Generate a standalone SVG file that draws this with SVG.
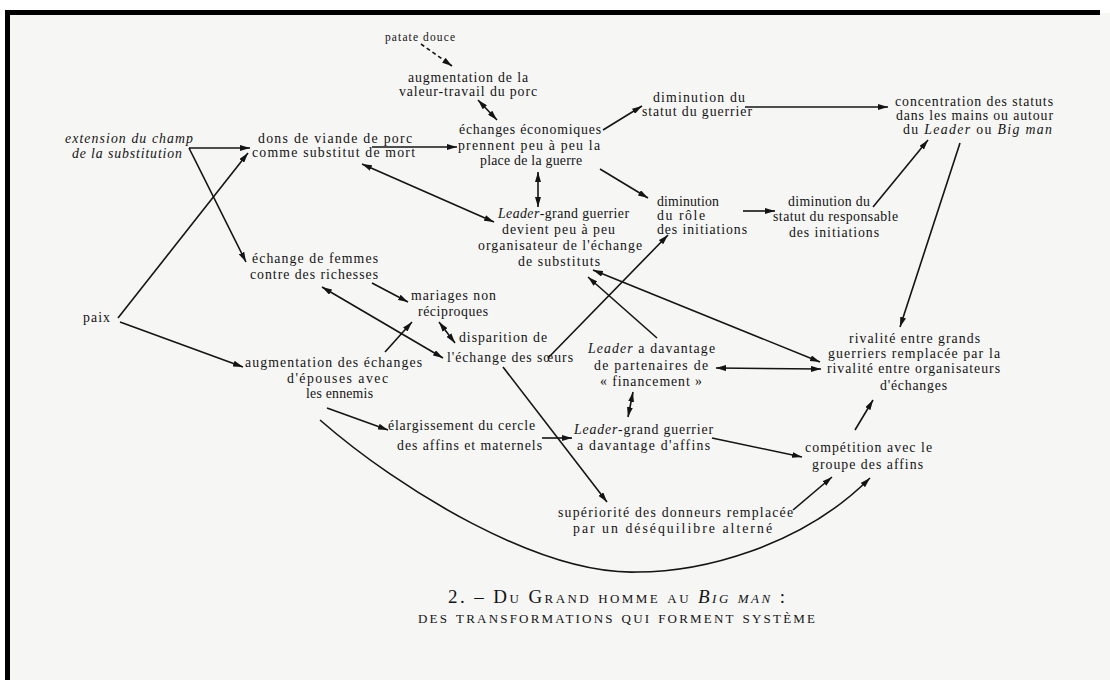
<svg xmlns="http://www.w3.org/2000/svg" width="1110" height="680" viewBox="0 0 1110 680">
<defs>
<style>
.t{font-family:"Liberation Serif","Times New Roman",serif;font-size:13.8px;fill:#141414}
.s{font-size:11.5px}
.i{font-style:italic}
.c{stroke:#141414;stroke-width:1.6;fill:none}
.d{stroke-dasharray:4 3}
.ti{font-family:"Liberation Serif","Times New Roman",serif;font-size:19px;fill:#141414;font-variant:small-caps}
</style>
<marker id="ah" viewBox="0 0 10 6" refX="10" refY="3" markerWidth="10" markerHeight="6" markerUnits="userSpaceOnUse" orient="auto-start-reverse">
<path d="M0,0 L10,3 L0,6 z" fill="#141414"/>
</marker>
</defs>
<rect x="0" y="0" width="1110" height="680" fill="#ffffff"/>
<rect x="8" y="13" width="1102" height="667" fill="#f6f6f5"/>
<rect x="5" y="10" width="1095" height="5" fill="#000"/>
<rect x="5" y="10" width="5" height="670" fill="#000"/>

<g id="connectors">
<line class="c d" x1="421" y1="44" x2="452" y2="66" marker-end="url(#ah)"/>
<line class="c" x1="478" y1="100" x2="497" y2="120" marker-start="url(#ah)" marker-end="url(#ah)"/>
<line class="c" x1="189" y1="148" x2="250" y2="148" marker-end="url(#ah)"/>
<line class="c" x1="189" y1="148" x2="246" y2="262" marker-end="url(#ah)"/>
<line class="c" x1="118" y1="318" x2="248" y2="153" marker-end="url(#ah)"/>
<line class="c" x1="120" y1="322" x2="243" y2="367" marker-end="url(#ah)"/>
<line class="c" x1="372" y1="147" x2="457" y2="147" marker-end="url(#ah)"/>
<line class="c" x1="362" y1="164" x2="494" y2="222" marker-start="url(#ah)" marker-end="url(#ah)"/>
<line class="c" x1="603" y1="130" x2="642" y2="106" marker-end="url(#ah)"/>
<line class="c" x1="745" y1="107" x2="888" y2="107" marker-end="url(#ah)"/>
<line class="c" x1="538" y1="172" x2="538" y2="207" marker-start="url(#ah)" marker-end="url(#ah)"/>
<line class="c" x1="600" y1="169" x2="648" y2="198" marker-end="url(#ah)"/>
<line class="c" x1="743" y1="211" x2="775" y2="211" marker-end="url(#ah)"/>
<line class="c" x1="873" y1="207" x2="928" y2="140" marker-end="url(#ah)"/>
<line class="c" x1="960" y1="143" x2="900" y2="327" marker-end="url(#ah)"/>
<line class="c" x1="372" y1="283" x2="408" y2="302" marker-end="url(#ah)"/>
<line class="c" x1="322" y1="287" x2="443" y2="358" marker-start="url(#ah)" marker-end="url(#ah)"/>
<line class="c" x1="385" y1="352" x2="412" y2="322" marker-end="url(#ah)"/>
<line class="c" x1="439" y1="322" x2="455" y2="343" marker-start="url(#ah)" marker-end="url(#ah)"/>
<line class="c" x1="548" y1="358" x2="668" y2="235" marker-end="url(#ah)"/>
<line class="c" x1="503" y1="367" x2="607" y2="502" marker-end="url(#ah)"/>
<line class="c" x1="657" y1="338" x2="588" y2="277" marker-end="url(#ah)"/>
<line class="c" x1="593" y1="270" x2="820" y2="362" marker-start="url(#ah)" marker-end="url(#ah)"/>
<line class="c" x1="716" y1="368" x2="821" y2="369" marker-start="url(#ah)" marker-end="url(#ah)"/>
<line class="c" x1="633" y1="392" x2="628" y2="417" marker-start="url(#ah)" marker-end="url(#ah)"/>
<line class="c" x1="327" y1="408" x2="388" y2="430" marker-end="url(#ah)"/>
<line class="c" x1="542" y1="438" x2="572" y2="438" marker-end="url(#ah)"/>
<line class="c" x1="712" y1="438" x2="802" y2="457" marker-end="url(#ah)"/>
<line class="c" x1="855" y1="430" x2="873" y2="400" marker-end="url(#ah)"/>
<line class="c" x1="793" y1="510" x2="832" y2="477" marker-end="url(#ah)"/>
<path class="c" d="M320,420 C400,490 540,575 637,572 C700,572 800,548 870,478" marker-end="url(#ah)"/>
</g>

<g id="n-patate"><text class="t s" x="385" y="41" textLength="70" lengthAdjust="spacing">patate douce</text></g>
<g id="n-valeur">
<text class="t" x="408" y="82" textLength="120" lengthAdjust="spacing">augmentation de la</text>
<text class="t" x="399" y="96" textLength="138" lengthAdjust="spacing">valeur-travail du porc</text>
</g>
<g id="n-echanges">
<text class="t" x="459" y="134" textLength="142" lengthAdjust="spacing">échanges économiques</text>
<text class="t" x="458" y="150" textLength="142" lengthAdjust="spacing">prennent peu à peu la</text>
<text class="t" x="480" y="165" textLength="102" lengthAdjust="spacing">place de la guerre</text>
</g>
<g id="n-dons">
<text class="t" x="258" y="143" textLength="154" lengthAdjust="spacing">dons de viande de porc</text>
<text class="t" x="252" y="157" textLength="163" lengthAdjust="spacing">comme substitut de mort</text>
</g>
<g id="n-extension">
<text class="t i" x="65" y="143" textLength="128" lengthAdjust="spacing">extension du champ</text>
<text class="t i" x="72" y="158" textLength="110" lengthAdjust="spacing">de la substitution</text>
</g>
<g id="n-dim-guerrier">
<text class="t" x="653" y="102" textLength="92" lengthAdjust="spacing">diminution du</text>
<text class="t" x="642" y="116" textLength="110" lengthAdjust="spacing">statut du guerrier</text>
</g>
<g id="n-concentration">
<text class="t" x="895" y="106" textLength="158" lengthAdjust="spacing">concentration des statuts</text>
<text class="t" x="896" y="120" textLength="157" lengthAdjust="spacing">dans les mains ou autour</text>
<text class="t" x="903" y="134" textLength="149" lengthAdjust="spacing">du <tspan class="i">Leader</tspan> ou <tspan class="i">Big man</tspan></text>
</g>
<g id="n-leader-org">
<text class="t" x="498" y="218" textLength="131" lengthAdjust="spacing"><tspan class="i">Leader</tspan>-grand guerrier</text>
<text class="t" x="502" y="234" textLength="113" lengthAdjust="spacing">devient peu à peu</text>
<text class="t" x="478" y="250" textLength="164" lengthAdjust="spacing">organisateur de l'échange</text>
<text class="t" x="518" y="266" textLength="82" lengthAdjust="spacing">de substituts</text>
</g>
<g id="n-dim-role">
<text class="t" x="657" y="206" textLength="62" lengthAdjust="spacing">diminution</text>
<text class="t" x="657" y="220" textLength="48" lengthAdjust="spacing">du rôle</text>
<text class="t" x="657" y="234" textLength="90" lengthAdjust="spacing">des initiations</text>
</g>
<g id="n-dim-resp">
<text class="t" x="788" y="206" textLength="82" lengthAdjust="spacing">diminution du</text>
<text class="t" x="773" y="221" textLength="125" lengthAdjust="spacing">statut du responsable</text>
<text class="t" x="789" y="237" textLength="90" lengthAdjust="spacing">des initiations</text>
</g>
<g id="n-femmes">
<text class="t" x="252" y="263" textLength="126" lengthAdjust="spacing">échange de femmes</text>
<text class="t" x="250" y="279" textLength="128" lengthAdjust="spacing">contre des richesses</text>
</g>
<g id="n-paix"><text class="t" x="83" y="322" textLength="27" lengthAdjust="spacing">paix</text></g>
<g id="n-augm-echanges">
<text class="t" x="245" y="367" textLength="177" lengthAdjust="spacing">augmentation des échanges</text>
<text class="t" x="287" y="383" textLength="101" lengthAdjust="spacing">d'épouses avec</text>
<text class="t" x="306" y="398" textLength="67" lengthAdjust="spacing">les ennemis</text>
</g>
<g id="n-mariages">
<text class="t" x="411" y="300" textLength="85" lengthAdjust="spacing">mariages non</text>
<text class="t" x="418" y="316" textLength="70" lengthAdjust="spacing">réciproques</text>
</g>
<g id="n-disparition">
<text class="t" x="459" y="342" textLength="88" lengthAdjust="spacing">disparition de</text>
<text class="t" x="447" y="362" textLength="126" lengthAdjust="spacing">l'échange des sœurs</text>
</g>
<g id="n-leader-fin">
<text class="t" x="588" y="353" textLength="127" lengthAdjust="spacing"><tspan class="i">Leader</tspan> a davantage</text>
<text class="t" x="594" y="370" textLength="114" lengthAdjust="spacing">de partenaires de</text>
<text class="t" x="600" y="386" textLength="102" lengthAdjust="spacing">« financement »</text>
</g>
<g id="n-rivalite">
<text class="t" x="849" y="343" textLength="131" lengthAdjust="spacing">rivalité entre grands</text>
<text class="t" x="828" y="358" textLength="172" lengthAdjust="spacing">guerriers remplacée par la</text>
<text class="t" x="827" y="373" textLength="173" lengthAdjust="spacing">rivalité entre organisateurs</text>
<text class="t" x="880" y="390" textLength="67" lengthAdjust="spacing">d'échanges</text>
</g>
<g id="n-elargissement">
<text class="t" x="388" y="430" textLength="147" lengthAdjust="spacing">élargissement du cercle</text>
<text class="t" x="397" y="450" textLength="145" lengthAdjust="spacing">des affins et maternels</text>
</g>
<g id="n-leader-affins">
<text class="t" x="574" y="434" textLength="139" lengthAdjust="spacing"><tspan class="i">Leader</tspan>-grand guerrier</text>
<text class="t" x="577" y="450" textLength="133" lengthAdjust="spacing">a davantage d'affins</text>
</g>
<g id="n-competition">
<text class="t" x="805" y="452" textLength="127" lengthAdjust="spacing">compétition avec le</text>
<text class="t" x="812" y="469" textLength="111" lengthAdjust="spacing">groupe des affins</text>
</g>
<g id="n-superiorite">
<text class="t" x="558" y="517" textLength="235" lengthAdjust="spacing">supériorité des donneurs remplacée</text>
<text class="t" x="573" y="533" textLength="199" lengthAdjust="spacing">par un déséquilibre alterné</text>
</g>
<g id="title">
<text class="ti" x="448" y="603" textLength="337" lengthAdjust="spacing">2. – Du Grand homme au <tspan font-style="italic">Big man</tspan> :</text>
<text class="ti" x="418" y="623" textLength="397" lengthAdjust="spacing">des transformations qui forment système</text>
</g>
</svg>
